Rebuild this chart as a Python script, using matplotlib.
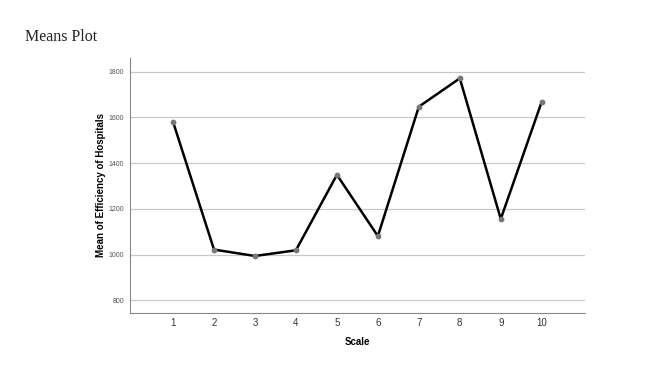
import matplotlib.pyplot as plt

# Means plot data
scale = [1, 2, 3, 4, 5, 6, 7, 8, 9, 10]
means = [1581, 1022, 994, 1019, 1349, 1081, 1647, 1771, 1156, 1669]
yticks = [800, 1000, 1200, 1400, 1600, 1800]

fig = plt.figure(figsize=(6.6, 3.67), dpi=100)
ax = fig.add_axes([0.197, 0.148, 0.689, 0.694])

ax.plot(scale, means, color='black', linewidth=1.8, zorder=3)
ax.scatter(scale, means, color='#777777', s=10, zorder=4)

ax.set_xlim(-0.05, 11.05)
ax.set_ylim(746, 1860)
ax.set_xticks(scale)
ax.set_yticks(yticks)
ax.set_yticklabels([str(v) for v in yticks], fontsize=5, color='#555555',
                   family='Liberation Sans')
ax.set_xticklabels([str(v) for v in scale], fontsize=7, color='#333333',
                   family='Liberation Sans')
ax.tick_params(axis='y', length=0, pad=4)
ax.tick_params(axis='x', length=0, pad=4)

ax.yaxis.grid(True, color='#c8c8c8', linewidth=0.9)
ax.set_axisbelow(True)
for s in ['top', 'right']:
    ax.spines[s].set_visible(False)
ax.spines['left'].set_color('#888888')
ax.spines['bottom'].set_color('#888888')

ax.set_xlabel('Scale', fontsize=7, fontweight='bold', family='Liberation Sans',
              labelpad=6)
ax.set_ylabel('Mean of Efficiency of Hospitals', fontsize=7, fontweight='bold',
              family='Liberation Sans', labelpad=2)

fig.text(0.038, 0.9, 'Means Plot', fontsize=11.5, family='Liberation Serif',
         color='#222222', va='center')

fig.savefig('out.png', dpi=100)
